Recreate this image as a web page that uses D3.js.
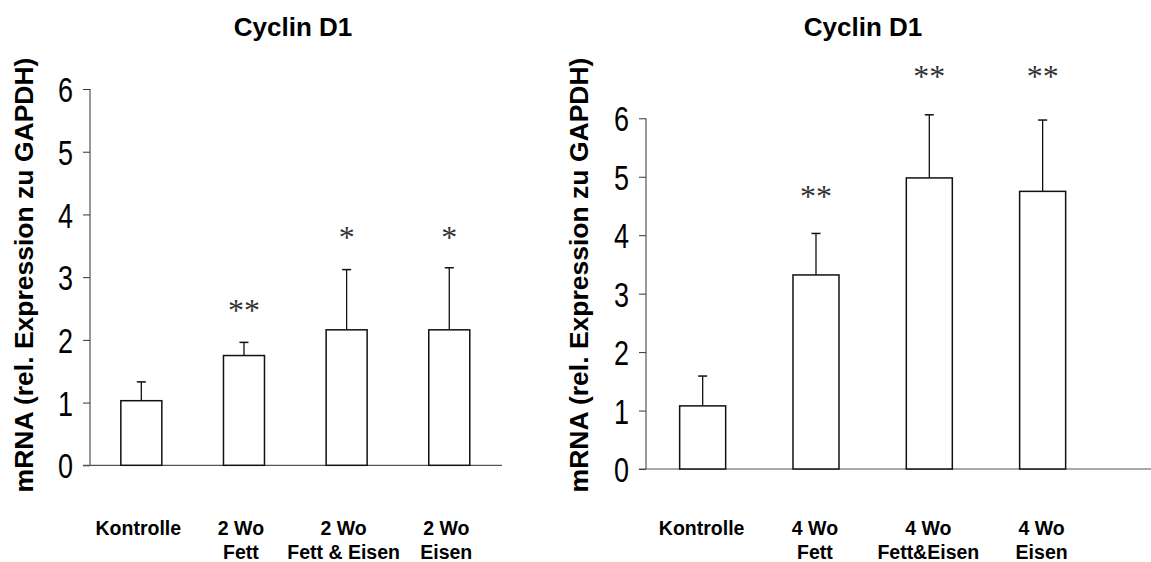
<!DOCTYPE html>
<html>
<head>
<meta charset="utf-8">
<script src="https://cdn.jsdelivr.net/npm/d3@7"></script>
<style>
  body { margin: 0; background: #fff; }
  svg { display: block; }
</style>
</head>
<body>
<div id="chart"></div>
<script>
// Chart data
const title = "Cyclin D1";
const yLabel = "mRNA (rel. Expression zu GAPDH)";
const yTicks = [0, 1, 2, 3, 4, 5, 6];

const labels2 = [["Kontrolle"], ["2 Wo", "Fett"], ["2 Wo", "Fett & Eisen"], ["2 Wo", "Eisen"]];
const means2 = [1.03, 1.75, 2.16, 2.16];
const errors2 = [0.30, 0.21, 0.96, 0.99];
const stars2 = ["", "**", "*", "*"];
const starY2 = [null, 2.54, 3.70, 3.70];

const labels4 = [["Kontrolle"], ["4 Wo", "Fett"], ["4 Wo", "Fett&Eisen"], ["4 Wo", "Eisen"]];
const means4 = [1.08, 3.32, 4.98, 4.75];
const errors4 = [0.51, 0.71, 1.08, 1.22];
const stars4 = ["", "**", "**", "**"];
const starY4 = [null, 4.74, 6.80, 6.80];

// Canvas
const width = 1151;
const height = 562;

const svg = d3.select("#chart")
  .append("svg")
  .attr("width", width)
  .attr("height", height);

// one panel: layout stuff lives here, values come from the arrays above
function drawPanel(cfg, labels, means, errors, stars, starY) {
  const g = svg.append("g");

  const yScale = d3.scaleLinear()
    .domain([0, 6])
    .range([cfg.y0, cfg.y6]);

  const xScale = d3.scalePoint()
    .domain(d3.range(labels.length))
    .range([cfg.axisX, cfg.xEnd])
    .padding(0.5);

  // title
  g.append("text")
    .attr("x", cfg.titleX)
    .attr("y", 36)
    .attr("text-anchor", "middle")
    .attr("font-family", "Liberation Sans, Arial, sans-serif")
    .attr("font-weight", "bold")
    .attr("font-size", "26px")
    .text(title);

  // y axis label
  g.append("text")
    .attr("transform", `translate(${cfg.yLabelX}, ${cfg.yLabelY}) rotate(-90)`)
    .attr("text-anchor", "middle")
    .attr("font-family", "Liberation Sans, Arial, sans-serif")
    .attr("font-weight", "bold")
    .attr("font-size", "26.5px")
    .text(yLabel);

  // y axis
  const yAxis = g.append("g")
    .attr("transform", `translate(${cfg.axisX}, 0)`)
    .call(d3.axisLeft(yScale)
      .tickValues(yTicks)
      .tickFormat(d3.format("d"))
      .tickSize(7)
      .tickPadding(10)
      .tickSizeOuter(0));
  yAxis.select(".domain").attr("stroke", "#333").attr("d", `M0,${yScale(6)}V${yScale(0)}`);
  yAxis.selectAll(".tick line").attr("stroke", "#333");
  // narrow digits, like the original's condensed font
  yAxis.selectAll(".tick text")
    .attr("font-family", "Liberation Sans, Arial, sans-serif")
    .attr("font-size", "35px")
    .attr("fill", "#000")
    .attr("dy", "0.36em")
    .attr("textLength", 15)
    .attr("lengthAdjust", "spacingAndGlyphs");

  // baseline
  g.append("line")
    .attr("x1", cfg.axisX - 7)
    .attr("x2", cfg.baseEnd)
    .attr("y1", yScale(0))
    .attr("y2", yScale(0))
    .attr("stroke", "#555")
    .attr("stroke-width", 1.2);

  // error bars (upper only)
  const err = g.selectAll(".err")
    .data(means)
    .enter()
    .append("g");
  err.append("line")
    .attr("x1", (d, i) => xScale(i))
    .attr("x2", (d, i) => xScale(i))
    .attr("y1", d => yScale(d))
    .attr("y2", (d, i) => yScale(d + errors[i]))
    .attr("stroke", "#111")
    .attr("stroke-width", 1.3);
  err.append("line")
    .attr("x1", (d, i) => xScale(i) - 4.5)
    .attr("x2", (d, i) => xScale(i) + 4.5)
    .attr("y1", (d, i) => yScale(d + errors[i]))
    .attr("y2", (d, i) => yScale(d + errors[i]))
    .attr("stroke", "#111")
    .attr("stroke-width", 1.5);

  // bars
  g.selectAll(".bar")
    .data(means)
    .enter()
    .append("rect")
    .attr("class", "bar")
    .attr("x", (d, i) => xScale(i) - cfg.barW / 2)
    .attr("y", d => yScale(d))
    .attr("width", cfg.barW)
    .attr("height", d => yScale(0) - yScale(d))
    .attr("fill", "#fff")
    .attr("stroke", "#111")
    .attr("stroke-width", 1.5);

  // significance stars (y = centre of the glyphs)
  g.selectAll(".star")
    .data(stars)
    .enter()
    .append("text")
    .attr("x", (d, i) => xScale(i))
    .attr("y", (d, i) => starY[i] == null ? 0 : yScale(starY[i]))
    .attr("dy", "0.47em")
    .attr("text-anchor", "middle")
    .attr("font-family", "Liberation Serif, Times New Roman, serif")
    .attr("font-size", "32px")
    .attr("fill", "#333")
    .text(d => d);

  // x labels (two lines)
  const xl = g.selectAll(".xlab")
    .data(labels)
    .enter()
    .append("text")
    .attr("text-anchor", "middle")
    .attr("font-family", "Liberation Sans, Arial, sans-serif")
    .attr("font-weight", "bold")
    .attr("font-size", "19.5px");
  xl.selectAll("tspan")
    .data((d, i) => d.map(s => ({ s: s, i: i })))
    .enter()
    .append("tspan")
    .attr("x", d => xScale(d.i) + cfg.labShift)
    .attr("y", (d, j) => 535 + j * 24)
    .text(d => d.s);
}

drawPanel({ axisX: 90, xEnd: 500.6, y0: 465.3, y6: 89, barW: 41, baseEnd: 502,
            titleX: 293, yLabelX: 33, yLabelY: 275, labShift: -3 },
          labels2, means2, errors2, stars2, starY2);

drawPanel({ axisX: 646, xEnd: 1099.3, y0: 469, y6: 118.3, barW: 46, baseEnd: 1151,
            titleX: 863, yLabelX: 588, yLabelY: 275, labShift: -1 },
          labels4, means4, errors4, stars4, starY4);
</script>
</body>
</html>
